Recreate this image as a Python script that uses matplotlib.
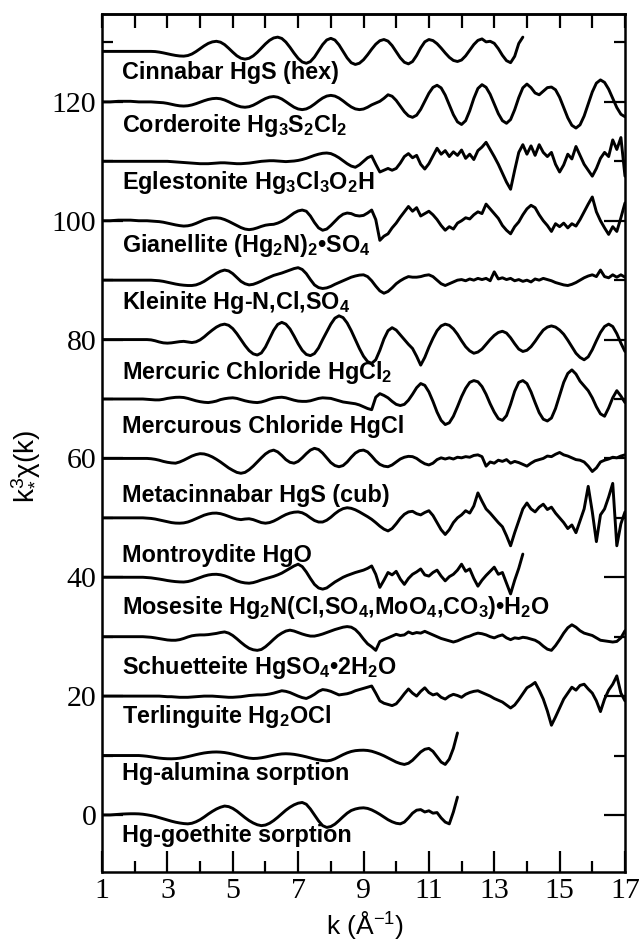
import numpy as np
import matplotlib
matplotlib.use("Agg")
import matplotlib.pyplot as plt

# ---------------- data ----------------
# common k sampling grid (Å^-1), step 0.125; each curve uses its first len(values) points
K = np.arange(1.0, 17.0001, 0.125)

NAMES = [
    "Cinnabar HgS (hex)",
    "Corderoite Hg$_3$S$_2$Cl$_2$",
    "Eglestonite Hg$_3$Cl$_3$O$_2$H",
    "Gianellite (Hg$_2$N)$_2$•SO$_4$",
    "Kleinite Hg-N,Cl,SO$_4$",
    "Mercuric Chloride HgCl$_2$",
    "Mercurous Chloride HgCl",
    "Metacinnabar HgS (cub)",
    "Montroydite HgO",
    "Mosesite Hg$_2$N(Cl,SO$_4$,MoO$_4$,CO$_3$)•H$_2$O",
    "Schuetteite HgSO$_4$•2H$_2$O",
    "Terlinguite Hg$_2$OCl",
    "Hg-alumina sorption",
    "Hg-goethite sorption",
]

OFFSETS = [128.5, 120, 110, 100, 90, 80, 70, 60, 50, 40, 30, 20, 10, 0]

cinnabar = [0, 0, 0, 0, 0, 0, 0, 0, 0, 0, 0, 0, 0,
            -0.03, -0.12, -0.25, -0.4, -0.55, -0.68, -0.77, -0.8,
            -0.70, -0.44, -0.03, 0.45, 0.93, 1.34, 1.6, 1.7,
            1.55, 1.14, 0.53, -0.13, -0.74, -1.15, -1.3,
            -1.16, -0.76, -0.16, 0.55, 1.26, 1.86, 2.26, 2.4,
            2.18, 1.57, 0.69, -0.29, -1.17, -1.78, -2.0,
            -1.72, -0.95, 0.1, 1.15, 1.92, 2.2,
            1.91, 1.1, 0.0, -1.1, -1.91, -2.2,
            -1.99, -1.41, -0.57, 0.37, 1.21, 1.79, 2.0,
            1.73, 0.98, -0.05, -1.08, -1.83, -2.1,
            -1.71, -0.69, 0.59, 1.61, 2.0,
            1.82, 1.3, 0.56, -0.26, -1.0, -1.52, -1.7,
            -1.45, -0.75, 0.2, 1.15, 1.85, 2.1,
            1.6, 1.7,
            1.36, 0.46, -0.66, -1.56, -1.9,
            -0.83, 1.33, 2.4]
corderoite = [0, 0, 0, 0.05, 0.1, 0.1, 0.1, 0.1, 0.05, 0, 0, 0, 0, -0.05, -0.1,
              -0.14, -0.25, -0.4, -0.55, -0.66, -0.7,
              -0.65, -0.51, -0.3, -0.05, 0.2, 0.41, 0.55, 0.6,
              0.53, 0.32, 0.02, -0.32, -0.62, -0.83, -0.9,
              -0.81, -0.56, -0.2, 0.2, 0.56, 0.81, 0.9,
              0.79, 0.49, 0.04, -0.44, -0.89, -1.19, -1.3,
              -1.18, -0.85, -0.37, 0.17, 0.65, 0.98, 1.1,
              0.98, 0.65, 0.17, -0.37, -0.85, -1.18, -1.3,
              -1.2, -0.9, -0.5, -0.2, 0.1, 0.6, 1.2,
              0.95, 0.25, -0.7, -1.65, -2.35, -2.6,
              -2.24, -1.25, 0.1, 1.45, 2.44, 2.8,
              2.36, 1.15, -0.5, -2.15, -3.36, -3.8,
              -3.16, -1.49, 0.59, 2.26, 2.9,
              2.46, 1.28, -0.35, -1.98, -3.16, -3.6,
              -2.97, -1.32, 0.72, 2.37, 3.0,
              2.4, 1.5, 1.2, 1.8, 2.4, 2.5,
              2.04, 0.78, -0.95, -2.68, -3.94, -4.4,
              -3.86, -2.38, -0.35, 1.68, 3.16, 3.7,
              3.28, 2.15, 0.6, -0.95, -2.08, -2.5]
eglestonite = [0, 0, 0, 0, 0, 0, 0, 0, 0, 0, 0, 0, 0, 0, 0, 0, 0, -0.05, -0.1, -0.15,
               -0.2, -0.25, -0.3, -0.35, -0.4, -0.4, -0.4, -0.35, -0.3, -0.25, -0.25,
               -0.3, -0.35, -0.4, -0.4, -0.35, -0.3, -0.2,
               -0.1, 0, 0.05, 0.1, 0.1, 0.05, 0, -0.05, 0, 0.05, 0.15,
               0.3, 0.5, 0.75, 1.0, 1.2, 1.35, 1.4, 1.3,
               1.0, 0.6, 0.1, -0.4, -0.8, -1.0,
               -0.6, 0.0, 0.6, 0.9,
               -0.5, -1.8, -1.5, -1.2, -1.5, -1.2,
               -0.3, 0.8, 1.3, 0.6,
               1.0, -0.5, -1.3, -0.4,
               0.9, 2.2, 1.2, 1.8,
               0.8, 1.6, 1.0, 1.9,
               0.5, 1.2, 0.3, 1.8,
               2.4, 3.2, 2.0, 0.8,
               -0.5, -2.0, -3.5, -4.7,
               -1.5, 1.5, 2.8, 1.2,
               2.6, 1.0, 2.8, 1.5,
               0.8, 1.5, -0.5, -1.8,
               -0.6, 1.2, 0.4, 2.5,
               1.0, -0.5, -1.5, -2.5,
               -1.2, 0.5, 1.5, 0.8,
               3.6, 2.0, 4.0, -2.5]
gianellite = [0, 0, 0, 0.05, 0.1, 0.1, 0.1, 0.1, 0.05, 0, 0, 0, -0.05, -0.1, -0.15, -0.25,
              -0.4, -0.55, -0.7, -0.82, -0.9,
              -0.85, -0.7, -0.45, -0.15, 0.15, 0.35, 0.48, 0.5,
              0.42, 0.2, -0.1, -0.45, -0.8, -1.15, -1.4, -1.5,
              -1.4, -1.2, -0.95, -0.75, -0.65, -0.6,
              -0.4, -0.1, 0.3, 0.8, 1.3, 1.65, 1.8,
              1.6, 0.8, -0.3, -1.2, -1.6,
              -1.4, -0.8, -0.1, 0.6, 1.1, 1.3,
              1.2, 0.9, 0.8, 0.9, 1.3,
              1.8, 0.2, -3.3, -2.6, -2.2,
              -1.2, -0.4, 0.6, 1.5,
              2.4, 1.6, 2.2, 0.8,
              1.2, 1.6, 1.0, 0.2,
              -0.8, -1.6, -1.0, -1.4,
              -0.4, 0.0, 0.5, 0.3,
              1.0, 1.5, 1.2, 2.8,
              2.0, 1.2, 0.4, -0.8,
              -1.6, -2.2, -1.0, -0.2,
              1.0, 2.0, 2.6, 2.2,
              1.0, 0.0, -0.8, -1.8,
              -0.5, -1.0, -0.4, -1.2,
              -0.5, -0.9, 0.2, 1.5,
              2.8, 4.0, 1.5, 0.0,
              -1.2, -2.3, -1.0, -1.8,
              0.5, 3.0]
kleinite = [0, 0, 0, 0, 0, 0, 0, 0, 0, 0, 0, 0, 0, -0.05, -0.1,
            -0.2, -0.35, -0.5, -0.65, -0.77, -0.85, -0.9, -0.9,
            -0.8, -0.55, -0.2, 0.25, 0.7, 1.15, 1.5, 1.7,
            1.55, 1.1, 0.45, -0.2, -0.6, -0.8,
            -0.7, -0.45, -0.15, 0.2, 0.5, 0.8,
            1.0, 1.2, 1.45, 1.7, 1.95, 2.1,
            1.8, 1.1, 0.1, -0.8, -1.25, -1.4,
            -1.3, -1.05, -0.7, -0.4, -0.1, 0.2,
            0.5, 0.7, 0.85, 0.9,
            0.6, -0.1, -1.0, -1.8, -2.2,
            -1.9, -1.3, -0.6, -0.1, 0.3, 0.6,
            0.5, 0.5, 0.6, 0.8, 0.9,
            0.6, 0.0, -0.6, -0.9,
            -0.6, -0.3, 0.0, 0.1,
            -0.1, 0.2, 0.0, 0.3,
            0.1, 0.3, -0.1, 1.4,
            0.2, 0.4, 0.1, 0.3,
            -0.1, 0.1, -0.2, 0.0,
            -0.3, 0.2, 0.0, 0.3,
            0.1, -0.1, -0.4, -0.6,
            -0.8, -0.9, -0.7, -0.4,
            0.0, 0.4, 0.7, 0.9,
            0.6, 1.7, 0.6, 0.4,
            0.9, 0.5, 0.9, 0.5]
mercuric = [0, 0, 0, 0, 0, 0, 0, 0, 0, 0, 0, 0, -0.05,
            -0.2, -0.4, -0.55, -0.6,
            -0.55, -0.45, -0.35, -0.3,
            -0.4, -0.5,
            -0.38, -0.05, 0.45, 1.05, 1.6, 2.1, 2.45, 2.6,
            2.4, 1.85, 1.0, 0.0, -1.0, -1.85, -2.4, -2.6,
            -2.25, -1.25, 0.15, 1.55, 2.55, 2.9,
            2.6, 1.8, 0.6, -0.7, -1.8, -2.5, -2.7,
            -2.35, -1.4, 0.0, 1.3, 2.6, 3.6, 4.0,
            3.7, 2.8, 1.5, 0.0, -1.5, -2.8, -3.7, -4.0,
            -3.4, -1.8, 0.1, 1.5, 2.0,
            1.6, 0.8, 0.0, -0.8, -1.5,
            -2.8, -4.3,
            -3.0, -1.3, 0.2, 1.5, 2.3, 2.6,
            2.4, 1.8, 0.9, -0.2, -1.2, -1.9, -2.3,
            -2.1, -1.6, -0.8, 0.0, 0.7, 1.2, 1.4,
            1.1, 0.3, -0.7, -1.6, -2.0,
            -1.8, -1.2, -0.3, 0.7, 1.6, 2.1, 2.3,
            2.1, 1.6, 0.9, -0.1, -1.2, -2.3, -3.0, -3.4,
            -2.9, -1.7, -0.2, 1.2, 2.2, 2.6,
            2.2, 1.0, -0.6, -2.0]
mercurous = [0, 0, 0, 0, 0, 0, 0, 0, 0, 0, 0, -0.05, -0.1,
             -0.15, -0.15, -0.05, 0.1, 0.2, 0.28, 0.3, 0.25,
             0.1, -0.1, -0.3, -0.45, -0.55, -0.6,
             -0.5, -0.35, -0.1, 0.05, 0.15, 0.2,
             0.1, -0.1, -0.3, -0.45, -0.55, -0.6,
             -0.5, -0.3, -0.05, 0.15, 0.25, 0.3,
             0.2, 0.0, -0.2, -0.35, -0.4, -0.4,
             -0.3, -0.1, 0.1, 0.2, 0.15, 0.1,
             -0.1, -0.3, -0.5, -0.6, -0.7, -0.8, -1.0, -1.3, -1.6, -1.8,
             0.3, 0.9,
             0.6, 0.2, -0.4, -0.9, -1.1,
             -0.9, -0.2, 0.8, 1.9, 2.6,
             2.3, 1.2, -0.4, -2.2, -3.6, -4.3,
             -4.0, -2.9, -1.3, 0.4, 1.8, 2.8, 3.1,
             2.9, 2.1, 0.8, -0.8, -2.2, -3.3, -3.6,
             -2.8, -0.9, 1.3, 2.8, 3.1,
             2.6, 1.2, -0.6, -2.3, -3.4, -3.7,
             -3.2, -1.6, 0.6, 2.8, 4.3, 4.9,
             4.2, 3.0, 2.2,
             1.4, 0.2, -1.3, -2.5, -2.9,
             -1.5, 0.2, 1.4,
             0.5, -0.6]
metacinnabar = [0, 0, 0, 0, 0, 0, 0, 0, 0, 0, 0, 0, -0.05, -0.15,
                -0.3, -0.5, -0.65, -0.75, -0.8,
                -0.6, -0.3, 0.05, 0.4, 0.65, 0.8,
                0.75, 0.55, 0.25, -0.15, -0.6, -1.1, -1.6, -2.0, -2.35, -2.5,
                -2.35, -1.9, -1.3, -0.6, 0.1, 0.75, 1.2, 1.4,
                1.1, 0.5, -0.2, -0.65, -0.8,
                -0.5, 0.1, 0.8, 1.4, 1.7,
                1.5, 0.9, 0.1, -0.7, -1.2, -1.4,
                -1.2, -0.6, 0.2, 0.9, 1.3, 1.4,
                1.1, 0.4, -0.4, -1.0, -1.3, -1.4,
                -1.1, -0.6, -0.1, 0.2, 0.35, 0.3,
                0.0, -0.5, -0.9, -1.1,
                -0.8, -0.2, 0.1, -0.1,
                0.1, -0.1, 0.2, 0.1,
                0.3, 0.2, 0.5, 0.6,
                0.3, -1.3, -0.6, -0.8,
                -0.3, -0.5, -0.2, -0.8,
                -0.5, -0.7, -1.0, -1.3,
                -0.8, -0.4, -0.2, 0.0,
                0.4, 0.3, 0.7, 1.0,
                0.6, 0.4, 0.1, -0.2,
                -0.3, -0.6, -1.3, -2.2,
                -1.6, -0.6, -0.3, -0.1,
                0.2, 0.1, 0.4, 0.6]
montroydite = [0, 0, 0, 0, 0, 0, 0, 0, 0, 0, 0, -0.05, -0.1,
               -0.2, -0.35, -0.5, -0.65, -0.8, -0.88, -0.9,
               -0.85, -0.7, -0.45, -0.15, 0.15, 0.45, 0.65, 0.78, 0.8,
               0.7, 0.5, 0.25, 0.0, -0.2, -0.3,
               -0.2, -0.15,
               -0.3, -0.55, -0.8, -0.9,
               -0.8, -0.55, -0.2, 0.2, 0.55, 0.8, 0.95, 1.0,
               0.85, 0.5, 0.0, -0.45, -0.7, -0.7,
               -0.4, 0.1, 0.7, 1.2, 1.55, 1.7,
               1.6, 1.35, 1.0, 0.6, 0.2, -0.25, -0.8, -1.4, -1.9, -2.2,
               -1.8, -1.0, -0.1, 0.6, 1.0, 1.1,
               0.7, 0.5, 0.9, 1.2,
               0.4, -0.8, -2.0, -2.8,
               -2.0, -0.8, 0.0, 0.5,
               1.2, 0.8, 2.0, 4.2,
               2.8, 1.5, 0.8, 0.0,
               -0.8, -1.5, -3.0, -4.7,
               -2.5, -0.5, 1.5, 2.5,
               1.5, 1.0, 1.8, 2.3,
               1.4, 1.8, 0.8, 0.0,
               -0.8, -1.8, -1.2, -2.5,
               -0.5, 1.5, 5.3, 1.0,
               -4.0, 0.5, 1.5, 3.5,
               5.8, -4.7, -1.0, 1.0]
mosesite = [0, 0, 0, 0, 0, 0, 0, 0, 0, 0, 0, -0.05, -0.1,
            -0.2, -0.3, -0.42, -0.55, -0.65, -0.73, -0.78, -0.8,
            -0.72, -0.55, -0.3, -0.05, 0.2, 0.38, 0.48, 0.5,
            0.42, 0.25, 0.0, -0.3, -0.6, -0.82, -0.95, -1.0,
            -0.9, -0.7, -0.45, -0.25, -0.05, 0.15, 0.4, 0.7, 1.1, 1.5, 1.9, 2.2,
            1.8, 0.9, -0.2, -1.2, -1.8, -2.0,
            -1.8, -1.3, -0.8, -0.4, 0.0, 0.3,
            0.55, 0.8, 1.0, 1.2, 1.5, 1.9,
            0.5, -1.7, -0.5, 0.8,
            0.4, 1.0, -0.3, -1.2,
            -0.2, 0.5, 0.9, 1.4,
            0.4, 0.2, 0.8, 1.2,
            0.2, -0.6, 0.1, 0.5,
            1.2, 2.2, 1.0, 1.4,
            -0.2, -1.5, -0.5, 0.3,
            1.0, 1.7, 0.5, 0.8,
            -1.0, -2.8, -0.5, 1.5,
            3.9]
schuetteite = [0, 0, 0, 0, 0, 0, 0, 0, 0, 0, 0, -0.05, -0.1,
               -0.2, -0.32, -0.45, -0.55, -0.6, -0.6,
               -0.5, -0.3, -0.05, 0.15, 0.25, 0.3,
               0.3, 0.35, 0.45, 0.55, 0.7, 0.8,
               0.6, 0.2, -0.35, -0.95, -1.5, -1.95, -2.2, -2.3,
               -2.15, -1.7, -1.1, -0.45, 0.15, 0.6, 0.95, 1.1,
               0.95, 0.7, 0.45, 0.25, 0.1, 0.1,
               0.25, 0.45, 0.7, 0.95, 1.2, 1.4, 1.6, 1.7,
               1.6, 1.2, 0.5, -0.4, -1.2, -1.7,
               -2.3, -0.8, -0.5, -0.2,
               0.1, 0.4, 0.2, 0.3,
               0.8, 0.5, 0.7, 0.6,
               0.9, 0.6, 0.3, 0.0,
               -0.3, -0.5, -0.7, -0.9,
               -0.7, -0.4, -0.1, 0.1,
               0.4, 0.6, 0.5, 0.3,
               0.0, -0.2, 0.1, 0.3,
               -0.2, -0.5, -0.2, -0.3,
               -0.1, -0.2, -0.4, -0.6,
               -1.0, -1.6, -2.1, -2.3,
               -1.5, -0.5, 0.6, 1.5,
               2.0, 1.6, 1.0, 0.6,
               0.4, 0.2, -0.2, -0.6,
               -0.7, -0.8, -0.9, -0.8,
               -0.2, 1.0]
terlinguite = [0, 0, 0, 0, 0, 0, 0, 0, 0, 0, 0, 0, 0, 0, 0, -0.05, -0.1,
               -0.1, -0.15, -0.2, -0.2, -0.2, -0.15, -0.1, -0.05, 0, 0, 0, -0.05, -0.1,
               -0.15, -0.2, -0.2, -0.15, -0.1, 0, 0.1, 0.15, 0.2,
               0.2, 0.25, 0.35, 0.5, 0.7, 0.9,
               0.8, 0.6, 0.3, 0.0, -0.25, -0.4,
               -0.1, 0.3, 0.8, 1.1,
               1.0, 0.8, 0.5, 0.2,
               0.3, 0.4, 0.6, 0.9, 1.1, 1.3, 1.5, 1.7,
               0.5, -0.8, -1.2, -1.4,
               -1.6, -1.3, -0.5, 0.4,
               1.2, 0.5, 0.0, 0.8,
               1.4, 0.6, 0.2, 0.4,
               -0.2, -0.5, 0.0, 0.3,
               0.1, -0.2, 0.3, 0.6,
               0.8, 0.9, 0.6, 0.3,
               0.0, -0.4, -0.7, -1.0,
               -1.5, -2.0, -1.5, -0.6,
               0.4, 1.4, 1.8, 2.3,
               1.0, -0.5, -2.5, -4.9,
               -3.5, -2.0, -0.5, 0.5,
               1.5, 1.0, 1.8, 2.0,
               1.2, 0.5, -0.8, -2.6,
               -0.5, 1.0, 2.0, 3.4,
               0.5, -0.8]
hg_alumina = [0, 0, 0, 0, 0, 0, 0, 0, 0, 0, -0.05,
              -0.12, -0.22, -0.33, -0.43, -0.5, -0.54, -0.55,
              -0.52, -0.45, -0.33, -0.18, -0.02, 0.15, 0.3, 0.43, 0.52, 0.58, 0.6,
              0.57, 0.5, 0.38, 0.23, 0.05, -0.12, -0.3, -0.43, -0.5,
              -0.47, -0.38, -0.25, -0.1, 0.05, 0.18, 0.27, 0.3,
              0.27, 0.2, 0.08, -0.06, -0.22, -0.4, -0.58, -0.72, -0.83, -0.9,
              -0.8, -0.55, -0.2, 0.15, 0.45, 0.68, 0.82, 0.88, 0.9,
              0.85, 0.72, 0.5, 0.25, -0.05, -0.4, -0.75, -1.1, -1.35, -1.5,
              -1.3, -0.8, -0.1, 0.6, 1.05, 1.2,
              0.7, -0.2, -1.1, -1.5,
              -0.6, 1.2, 3.8]
hg_goethite = [0, 0, 0, 0.05, 0.1, 0.15, 0.18, 0.2, 0.2,
               0.18, 0.12, 0.02, -0.1, -0.25, -0.45, -0.65, -0.85, -1.05, -1.22, -1.35,
               -1.45, -1.5,
               -1.4, -1.15, -0.8, -0.35, 0.15, 0.6, 1.0, 1.3, 1.5,
               1.4, 1.1, 0.65, 0.1, -0.45, -0.95, -1.35, -1.65, -1.8,
               -1.7, -1.4, -0.95, -0.4, 0.2, 0.8, 1.3, 1.7, 1.98, 2.1,
               1.8, 1.0, 0.0, -1.0, -1.8, -2.1,
               -1.95, -1.55, -0.95, -0.3, 0.3, 0.75, 1.0, 1.15, 1.2,
               1.1, 0.85, 0.5, 0.1, -0.35, -0.8, -1.15, -1.4, -1.5,
               -1.2, -0.5, 0.3, 0.8, 0.9,
               0.5, 0.7, 0.3, 0.4,
               -0.5, -1.2, -1.5,
               0.5, 3.0]

SERIES = [cinnabar, corderoite, eglestonite, gianellite, kleinite, mercuric, mercurous,
          metacinnabar, montroydite, mosesite, schuetteite, terlinguite, hg_alumina,
          hg_goethite]

# label anchor positions (value units) -- layout, not data
LABEL_K = 1.62
LABEL_Y = [124.9, 116.1, 106.4, 95.8, 86.2, 74.4, 65.3, 53.8, 43.7, 34.9, 24.8,
           16.5, 7.0, -3.4]

X_TICKS = [1, 3, 5, 7, 9, 11, 13, 15, 17]
Y_TICKS = [0, 20, 40, 60, 80, 100, 120]

# ---------------- figure ----------------
plt.rcParams["mathtext.fontset"] = "custom"
plt.rcParams["mathtext.rm"] = "Liberation Sans:bold"
plt.rcParams["mathtext.it"] = "Liberation Sans:bold"
plt.rcParams["mathtext.bf"] = "Liberation Sans:bold"
plt.rcParams["mathtext.sf"] = "Liberation Sans"

fig = plt.figure(figsize=(6.42, 9.43), dpi=100)
ax = fig.add_axes([0.1589, 0.0753, 0.8146, 0.9099])

for vals, off in zip(SERIES, OFFSETS):
    v = np.asarray(vals, dtype=float)
    n = min(len(v), len(K))
    ax.plot(K[:n], off + v[:n], color="black", lw=2.1,
            solid_joinstyle="round", solid_capstyle="round")

for name, ly in zip(NAMES, LABEL_Y):
    ax.text(LABEL_K, ly, name, ha="left", va="center", fontsize=16.8,
            fontfamily="Liberation Sans", fontweight="bold")

ax.set_xlim(1, 17)
ax.set_ylim(-9.6, 134.8)
ax.set_xticks(X_TICKS)
ax.set_xticks(np.arange(2, 17, 2), minor=True)
ax.set_yticks(Y_TICKS)
ax.set_yticks(np.arange(10, 131, 20), minor=True)
ax.tick_params(axis="both", which="major", direction="in", width=1.6, length=15,
               labelsize=21.5, pad=4)
ax.tick_params(axis="both", which="minor", direction="in", width=1.6, length=8)
ax.tick_params(axis="y", which="both", left=True, right=True)
ax.tick_params(axis="x", which="both", top=False)
for lab in ax.get_xticklabels() + ax.get_yticklabels():
    lab.set_fontfamily("Liberation Serif")

top = ax.secondary_xaxis("top")
top.set_xticks(np.arange(1, 18, 1))
top.tick_params(direction="in", length=10, width=1.6, labeltop=False)
top.spines["top"].set_linewidth(1.8)

for s in ax.spines.values():
    s.set_linewidth(1.8)

fig.text(0.04, 0.505, "k$^{\\mathsf{3}}_{\\mathsf{*}}$χ(k)", rotation=90,
         ha="center", va="center", fontsize=20, fontfamily="Liberation Sans")
fig.text(0.569, 0.019, "k (Å$^{\\mathsf{-1}}$)", ha="center", va="center",
         fontsize=19, fontfamily="Liberation Sans")

fig.savefig("out.png", dpi=100)
